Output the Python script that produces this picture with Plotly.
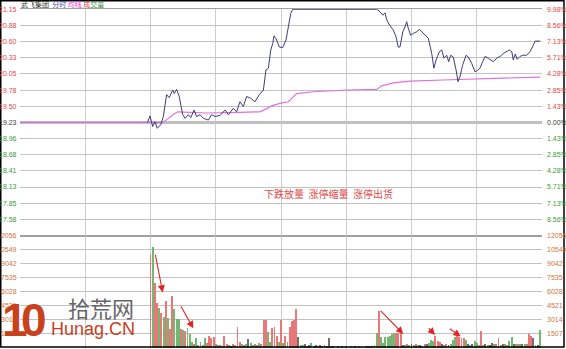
import plotly.graph_objects as go

W, H = 566, 349

# ---------------- data ----------------
prev_close = 19.23
price_tick_labels = ["21.15", "20.88", "20.60", "20.33", "20.05", "19.78", "19.50",
                     "19.23", "18.96", "18.68", "18.41", "18.13", "17.85", "17.58"]
pct_tick_labels = ["9.98%", "8.56%", "7.13%", "5.71%", "4.28%", "2.85%", "1.43%",
                   "0.00%", "1.43%", "2.85%", "4.28%", "5.71%", "7.13%", "8.56%"]
vol_tick_labels = ["12056", "10549", "9042", "7535", "6028", "4521", "3014", "1507"]
vol_tick_values = [12056, 10549, 9042, 7535, 6028, 4521, 3014, 1507]

# minutes since open (0..240)
price_t = [58.6, 59.8, 61.0, 62.1, 63.1, 64.7, 65.9, 67.4, 68.6, 70.2, 70.9, 72.0, 73.2, 74.8,
           75.9, 77.4, 78.5, 80.0, 81.2, 82.8, 84.3, 86.6, 88.1, 89.7, 92.0, 94.3, 95.8, 98.1,
           99.6, 101.1, 102.7, 104.2, 106.1, 108.0, 110.0, 111.9, 113.1, 114.2, 115.3, 116.2,
           116.8, 118.0, 119.2, 120.8, 122.3, 123.4, 124.5, 125.4, 164.0, 165.5, 166.8, 167.8,
           168.6, 170.1, 171.6, 172.9, 173.9, 174.7, 176.0, 177.0, 177.8, 178.5, 179.6, 180.8,
           182.4, 183.6, 185.4, 187.7, 189.3, 190.3, 191.3, 192.8, 193.9, 194.9, 196.2, 197.1,
           198.0, 199.2, 200.5, 201.4, 202.3, 203.5, 205.1, 206.1, 207.7, 209.2, 210.3, 211.5,
           212.7, 213.8, 215.3, 217.6, 219.2, 220.7, 222.2, 223.8, 225.0, 226.1, 226.8, 227.7,
           228.6, 229.9, 231.1, 232.9, 234.5, 236.0, 236.8, 239.1]
price_v = [19.23, 19.34, 19.16, 19.24, 19.13, 19.19, 19.33, 19.70, 19.65, 19.78, 19.72, 19.79,
           19.67, 19.36, 19.30, 19.36, 19.31, 19.44, 19.33, 19.36, 19.30, 19.27, 19.36, 19.33,
           19.35, 19.44, 19.36, 19.47, 19.41, 19.58, 19.50, 19.67, 19.64, 19.58, 19.70, 19.78,
           20.12, 20.15, 20.46, 20.57, 20.70, 20.63, 20.51, 20.50, 20.63, 20.85, 21.08, 21.15,
           21.15, 21.11, 21.05, 21.09, 20.97, 20.87, 20.80, 20.68, 20.51, 20.51, 20.77, 20.85,
           20.94, 20.83, 20.71, 20.74, 20.77, 20.81, 20.74, 20.66, 20.40, 20.15, 20.29, 20.43,
           20.46, 20.32, 20.37, 20.26, 20.37, 20.34, 20.12, 19.92, 20.01, 20.20, 20.37, 20.34,
           20.23, 20.09, 20.11, 20.15, 20.26, 20.35, 20.32, 20.26, 20.32, 20.35, 20.40, 20.43,
           20.46, 20.43, 20.29, 20.39, 20.30, 20.35, 20.37, 20.37, 20.43, 20.54, 20.61, 20.61]

avg_t = [0, 59.8, 62.5, 65.7, 68.0, 70.3, 72.6, 78.2, 85.8, 101.1, 110.3, 113.1, 115.7, 120.3,
         123.4, 125.5, 127.2, 134.9, 150.2, 164.0, 166.3, 171.6, 179.3, 194.6, 210.0, 225.3, 239.1]
avg_v = [19.23, 19.23, 19.22, 19.23, 19.29, 19.36, 19.41, 19.40, 19.39, 19.40, 19.41, 19.46,
         19.51, 19.56, 19.58, 19.66, 19.72, 19.75, 19.78, 19.79, 19.85, 19.90, 19.93, 19.95,
         19.97, 19.98, 20.00]

vol_start = 60
volumes = [10100, 10900, 6950, 4800, 4300, 3700, 3300, 5000, 3200, 2000,   # 60-69
           5600, 4200, 3150, 3100, 2000, 1950, 1850, 2100, 1500, 600,      # 70-79
           400, 1050, 300, 600, 300, 1050, 500, 1300, 1000, 1200,          # 80-89
           400, 300, 300, 200, 1300, 400, 300, 200, 350, 300,              # 90-99
           2200, 600, 400, 300, 350, 900, 500, 300, 400, 300,              # 100-109
           500, 350, 3000, 3000, 1700, 600, 2100, 2200, 1300, 600,         # 110-119
           3000, 500, 1250, 600, 2200, 2900, 3000, 4200, 1200, 300,        # 120-129
           250, 400, 200, 300, 500, 200, 300, 200, 250, 200,               # 130-139
           300, 200, 1000, 150, 200, 0, 150, 0, 100, 0,                    # 140-149
           150, 0, 100, 0, 150, 0, 100, 200, 0, 150,                       # 150-159
           200, 150, 200, 300, 1600, 4000, 1150, 550, 1150, 1150,          # 160-169
           1270, 1480, 1600, 1550, 1550, 1600, 300, 250, 350, 300,         # 170-179
           350, 250, 350, 300, 250, 200, 350, 400, 500, 850,               # 180-189
           700, 1270, 700, 600, 350, 300, 350, 300, 400, 800,              # 190-199
           1200, 1340, 1200, 1000, 1100, 800, 350, 300, 400, 700,          # 200-209
           500, 300, 1750, 300, 400, 250, 300, 500, 400, 350,              # 210-219
           1000, 300, 350, 400, 300, 700, 1120, 400, 350, 400,             # 220-229
           350, 400, 450, 400, 1450, 1300, 1000, 300, 250, 1950]           # 230-239
vol_colors = ("rgrrgrgrgr" "rgggrgrggg" "rgggrgrrrr" "grgrrrgkrg" "rrgrgkgrgr"
              "grrrggrrrg" "rgrgrrrrkg" "gkgkggkgkg" "gkkgkgggkg" "ggrgkggrgg"
              "kgkggrgggg" "gggrrrkgrg" "kgrgkgrkgg" "grrrkgrkgg" "grrrrgkgkg"
              "grrgkgkkgr" "rgkgrggkgr" "gkgrrrkgkg")
vol_t = [vol_start + i for i in range(len(volumes))]

annotation_text = "下跌放量  涨停缩量  涨停出货"
# arrows: (tail minute, tail volume, head minute, head volume)
arrow_tail_t = [62.1, 73.6, 165.2, 187.3, 196.9]
arrow_tail_v = [10174, 4604, 4107, 2247, 2141]
arrow_head_t = [65.6, 79.7, 176.2, 190.8, 202.6]
arrow_head_v = [5946, 2067, 1465, 1359, 1190]

# ---------------- geometry ----------------
def px_x(p):
    return p / W

def px_y(p):
    return 1 - p / H

limit = prev_close * 0.0998
price_ticks = [prev_close + limit * k / 7 for k in range(7, -7, -1)]
x_dom = [px_x(20), px_x(542)]
price_dom = [px_y(235.8), px_y(9.0)]
vol_dom = [0, px_y(235.8)]
price_range = [prev_close - limit - 0.006, prev_close + limit + 0.006]
vol_range = [-162, 12056]

RED = "#e04848"
GREEN = "#3c9a3c"
DARK = "#404040"
ORANGE = "#d0743c"
cmap = {"r": "#e87878", "g": "#72b872", "k": "#707070"}

fig = go.Figure()
fig.add_trace(go.Bar(x=vol_t, y=volumes, width=0.42,
                     marker=dict(color=[cmap[c] for c in vol_colors], line=dict(width=0)),
                     xaxis="x2", yaxis="y2", hoverinfo="skip"))
fig.add_trace(go.Scatter(x=avg_t, y=avg_v, mode="lines",
                         line=dict(color="#e070e0", width=1.2), xaxis="x", yaxis="y"))
fig.add_trace(go.Scatter(x=price_t, y=price_v, mode="lines",
                         line=dict(color="#3c3c7c", width=1), xaxis="x", yaxis="y"))

shapes = [
    # prev close line
    dict(type="line", xref="paper", yref="y", x0=x_dom[0], x1=x_dom[1], y0=prev_close, y1=prev_close,
         line=dict(color="#a8a8a8", width=2.5), layer="below"),
    # divider line
    dict(type="line", xref="paper", yref="y2", x0=x_dom[0], x1=x_dom[1], y0=12056, y1=12056,
         line=dict(color="#888888", width=2), layer="below"),
    # outer border
    dict(type="rect", xref="paper", yref="paper", x0=px_x(0.75), x1=px_x(564), y0=px_y(347), y1=px_y(0.75),
         line=dict(color="black", width=1.5), layer="above"),
]

annotations = []
lab_font = "Liberation Sans, Arial, sans-serif"
for i, (v, lab, pl) in enumerate(zip(price_ticks, price_tick_labels, pct_tick_labels)):
    col = RED if i < 7 else (DARK if i == 7 else GREEN)
    annotations.append(dict(x=px_x(18.5), xref="paper", xanchor="right", y=v, yref="y",
                            yanchor="middle", text=lab, showarrow=False,
                            font=dict(size=7, color=col, family=lab_font)))
    annotations.append(dict(x=px_x(545), xref="paper", xanchor="left", y=v, yref="y",
                            yanchor="middle", text=pl, showarrow=False,
                            font=dict(size=7, color=col, family=lab_font)))
for v, lab in zip(vol_tick_values, vol_tick_labels):
    annotations.append(dict(x=px_x(18.5), xref="paper", xanchor="right", y=v, yref="y2",
                            yanchor="middle", text=lab, showarrow=False,
                            font=dict(size=7, color=ORANGE, family=lab_font)))
    annotations.append(dict(x=px_x(545), xref="paper", xanchor="left", y=v, yref="y2",
                            yanchor="middle", text=lab, showarrow=False,
                            font=dict(size=7, color=ORANGE, family=lab_font)))

# title
annotations.append(dict(x=px_x(19), y=px_y(4.5), xref="paper", yref="paper", xanchor="left",
                        yanchor="middle", showarrow=False,
                        text=('<span style="color:#303030">武飞集团</span>  '
                              '<span style="color:#4a4aa8">分时</span> '
                              '<span style="color:#e040e0">均线</span> '
                              '<span style="color:#e04040">成</span>'
                              '<span style="color:#3c8a3c">交量</span>'),
                        font=dict(size=7, family="Noto Sans CJK SC")))

# comment text
annotations.append(dict(x=142, y=18.02, xref="x", yref="y", text=annotation_text, showarrow=False,
                        xanchor="center", yanchor="middle",
                        font=dict(size=10, color="#e04a4a", family="Noto Sans CJK SC")))

# arrows
for tt, tv, ht, hv in zip(arrow_tail_t, arrow_tail_v, arrow_head_t, arrow_head_v):
    annotations.append(dict(x=ht, y=hv, xref="x2", yref="y2", ax=tt, ay=tv, axref="x2", ayref="y2",
                            showarrow=True, arrowhead=2, arrowsize=1.3, arrowwidth=1.1,
                            arrowcolor="#e02424", text=""))

# logo
logo_font = dict(size=46, color="#c8401c", family="Liberation Sans")
annotations.append(dict(x=px_x(15), y=px_y(320), xref="paper", yref="paper", xanchor="center",
                        yanchor="middle", text="<b>1</b>", showarrow=False, font=logo_font))
annotations.append(dict(x=px_x(34), y=px_y(320), xref="paper", yref="paper", xanchor="center",
                        yanchor="middle", text="<b>0</b>", showarrow=False, font=logo_font))
annotations.append(dict(x=px_x(101), y=px_y(307), xref="paper", yref="paper", xanchor="center",
                        yanchor="middle", text="拾荒网", showarrow=False,
                        font=dict(size=22, color="#666666", family="Noto Sans CJK SC")))
annotations.append(dict(x=px_x(93), y=px_y(329), xref="paper", yref="paper", xanchor="center",
                        yanchor="middle", text="Hunag.CN", showarrow=False,
                        font=dict(size=18, color="#c8401c", family="Liberation Sans")))

axis_common = dict(showticklabels=False, zeroline=False, ticks="")
fig.update_layout(
    width=W, height=H, margin=dict(l=0, r=0, t=0, b=0),
    paper_bgcolor="white", plot_bgcolor="white", showlegend=False, bargap=0,
    xaxis=dict(domain=x_dom, range=[0, 240], tickvals=list(range(0, 241, 30)),
               showgrid=True, gridcolor="#cdcdcd", gridwidth=1, anchor="y",
               showline=True, linecolor="#a0a0a0", mirror=True, **axis_common),
    xaxis2=dict(domain=x_dom, range=[0, 240], tickvals=list(range(0, 241, 30)), matches="x",
                showgrid=True, gridcolor="#cdcdcd", gridwidth=1, anchor="y2",
                showline=True, linecolor="#a0a0a0", mirror=True, **axis_common),
    yaxis=dict(domain=price_dom, range=price_range, tickvals=price_ticks, showgrid=True,
               gridcolor="#c2c2c2", gridwidth=1, anchor="x", **axis_common),
    yaxis2=dict(domain=vol_dom, range=vol_range, tickvals=vol_tick_values, showgrid=True,
                gridcolor="#c2c2c2", gridwidth=1, anchor="x2", **axis_common),
    shapes=shapes, annotations=annotations,
)

fig.write_html("out.html")
